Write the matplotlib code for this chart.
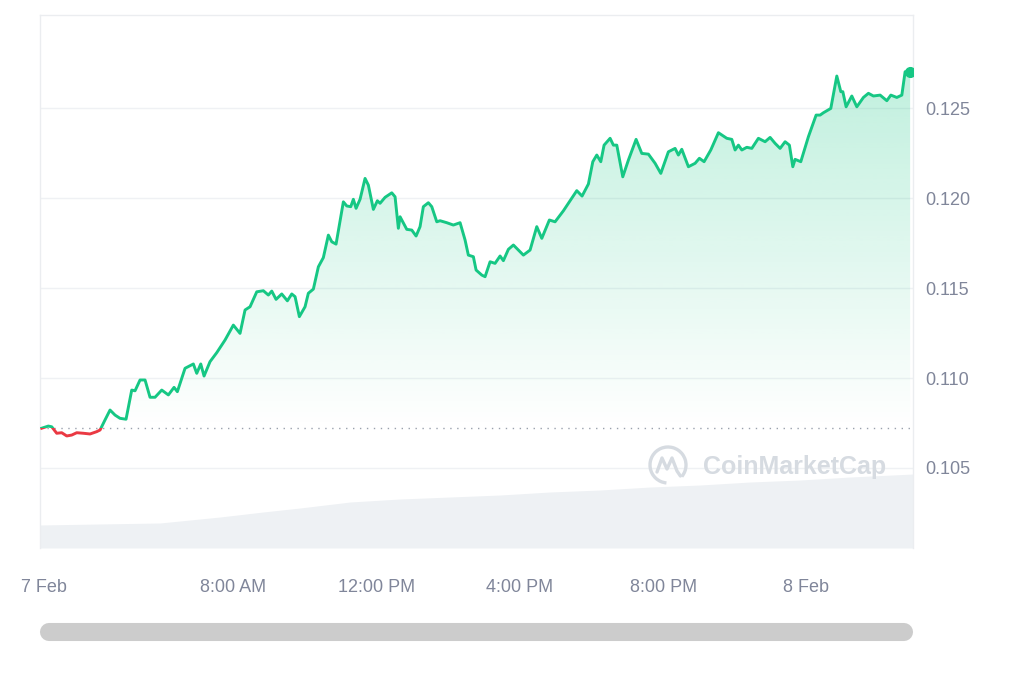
import matplotlib
matplotlib.use('Agg')
import numpy as np
import matplotlib.pyplot as plt
from matplotlib.patches import Rectangle, PathPatch, Arc
from matplotlib.path import Path
from matplotlib.lines import Line2D

# price series: hours since 7 Feb 00:00 and price in USD
hours = [
    2.645, 2.830, 2.925, 3.064, 3.204, 3.344, 3.483, 3.623, 3.807, 3.994,
    4.182, 4.274, 4.413, 4.553, 4.693, 4.832, 5.000, 5.159, 5.251, 5.391,
    5.531, 5.670, 5.810, 5.997, 6.182, 6.341, 6.433, 6.648, 6.880, 6.975,
    7.087, 7.179, 7.346, 7.534, 7.765, 7.997, 8.184, 8.324, 8.464, 8.651,
    8.835, 8.975, 9.070, 9.190, 9.349, 9.506, 9.629, 9.721, 9.841, 10.000,
    10.092, 10.232, 10.372, 10.511, 10.651, 10.746, 10.866, 11.070, 11.165, 11.276,
    11.349, 11.425, 11.536, 11.676, 11.768, 11.908, 12.020, 12.095, 12.235, 12.422,
    12.514, 12.606, 12.654, 12.841, 12.981, 13.101, 13.212, 13.304, 13.444, 13.539,
    13.679, 13.771, 13.958, 14.142, 14.330, 14.469, 14.561, 14.701, 14.777, 14.936,
    15.028, 15.168, 15.307, 15.447, 15.539, 15.679, 15.819, 15.958, 16.098, 16.285,
    16.472, 16.612, 16.824, 16.983, 17.215, 17.402, 17.589, 17.737, 17.914, 18.037,
    18.148, 18.260, 18.352, 18.520, 18.612, 18.707, 18.874, 19.031, 19.246, 19.405,
    19.590, 19.777, 19.936, 20.148, 20.335, 20.427, 20.522, 20.707, 20.894, 21.014,
    21.145, 21.332, 21.545, 21.779, 21.919, 22.011, 22.104, 22.199, 22.338, 22.478,
    22.662, 22.849, 22.989, 23.128, 23.268, 23.408, 23.528, 23.623, 23.687, 23.846,
    24.059, 24.274, 24.386, 24.478, 24.573, 24.684, 24.852, 24.964, 25.020, 25.112,
    25.271, 25.411, 25.595, 25.735, 25.875, 26.062, 26.249, 26.361, 26.528, 26.668,
    26.760, 26.900,
]
prices = [
    0.10721, 0.10733, 0.10729, 0.10693, 0.10696, 0.10678, 0.10683, 0.10696, 0.10693, 0.10689,
    0.10702, 0.10711, 0.10767, 0.10822, 0.10794, 0.10776, 0.10771, 0.10933, 0.10929, 0.10989,
    0.10989, 0.10893, 0.10893, 0.10933, 0.10906, 0.10948, 0.10924, 0.11054, 0.11078, 0.11026,
    0.11078, 0.11011, 0.11091, 0.11141, 0.11211, 0.11294, 0.11248, 0.11378, 0.11396, 0.11479,
    0.11485, 0.11461, 0.11483, 0.11437, 0.11467, 0.11429, 0.11467, 0.11452, 0.11341, 0.11396,
    0.11471, 0.11494, 0.11618, 0.11669, 0.11794, 0.11757, 0.11744, 0.11979, 0.11956, 0.11952,
    0.11993, 0.11943, 0.11993, 0.12109, 0.12072, 0.11937, 0.11985, 0.11971, 0.12004, 0.12029,
    0.12007, 0.11832, 0.11896, 0.11826, 0.11822, 0.11789, 0.11841, 0.11952, 0.11974, 0.11952,
    0.11868, 0.11874, 0.11863, 0.11850, 0.11863, 0.11767, 0.11683, 0.11674, 0.11600, 0.11572,
    0.11563, 0.11646, 0.11637, 0.11678, 0.11652, 0.11715, 0.11739, 0.11711, 0.11683, 0.11711,
    0.11841, 0.11776, 0.11878, 0.11868, 0.11929, 0.11985, 0.12041, 0.12011, 0.12078, 0.12202,
    0.12239, 0.12202, 0.12294, 0.12332, 0.12294, 0.12294, 0.12118, 0.12211, 0.12326, 0.12248,
    0.12244, 0.12193, 0.12137, 0.12257, 0.12276, 0.12239, 0.12271, 0.12174, 0.12193, 0.12221,
    0.12202, 0.12267, 0.12363, 0.12332, 0.12326, 0.12267, 0.12294, 0.12267, 0.12282, 0.12276,
    0.12332, 0.12313, 0.12337, 0.12304, 0.12276, 0.12313, 0.12294, 0.12174, 0.12215, 0.12202,
    0.12341, 0.12461, 0.12461, 0.12474, 0.12485, 0.12498, 0.12678, 0.12591, 0.12591, 0.12507,
    0.12567, 0.12507, 0.12559, 0.12582, 0.12567, 0.12572, 0.12541, 0.12572, 0.12559, 0.12572,
    0.12702, 0.12702,
]

# traded volume (millions USD), sampled along the day
vol_hours = [2.6, 4.27, 5.95, 7.63, 8.83, 9.86, 11.26, 12.65, 14.05, 15.45,
             16.84, 18.24, 19.64, 21.03, 22.43, 23.83, 25.22, 26.98]
volumes = [34.5, 36.0, 37.5, 46.5, 54.0, 60.0, 69.0, 73.5, 76.5, 79.5,
           84.0, 87.0, 91.5, 94.5, 99.0, 102.0, 106.5, 111.0]

x_ticks = [2.7, 8, 12, 16, 20, 24]
x_labels = ['7 Feb', '8:00 AM', '12:00 PM', '4:00 PM', '8:00 PM', '8 Feb']
y_ticks = [0.105, 0.110, 0.115, 0.120, 0.125]
y_labels = ['0.105', '0.110', '0.115', '0.120', '0.125']

GREEN = '#16c784'
RED = '#ea3943'
GREY_TXT = '#80869a'
GRID = '#eff1f4'

plt.rcParams['font.family'] = ['Liberation Sans', 'DejaVu Sans']

fig = plt.figure(figsize=(10.24, 6.83), dpi=100)
pos = [0.0391, 0.1977, 0.8525, 0.7803]
x_lim = (2.598, 26.98)
y_lim = (0.100556, 0.13017)

# volume in the back
ax_vol = fig.add_axes(pos)
ax_vol.fill_between(vol_hours, volumes, 0, color='#eef1f4', lw=0)
ax_vol.set_xlim(*x_lim)
ax_vol.set_ylim(0, 800)
ax_vol.axis('off')

ax = fig.add_axes(pos)
ax.patch.set_visible(False)

t = np.array(hours)
p = np.array(prices)
base = prices[0]

# gradient fill under the line (above the opening price)
verts = np.vstack([np.column_stack([t, p]), [[t[-1], base], [t[0], base]]])
clip_poly = PathPatch(Path(verts, closed=True), transform=ax.transData,
                      facecolor='none', edgecolor='none')
ax.add_patch(clip_poly)
grad = np.zeros((256, 1, 4))
grad[:, 0, :3] = matplotlib.colors.to_rgb(GREEN)
grad[:, 0, 3] = np.linspace(0.27, 0.0, 256)
im = ax.imshow(grad, extent=[t[0], t[-1], base, p.max()], aspect='auto',
               origin='upper', zorder=1, interpolation='bilinear')
im.set_clip_path(clip_poly)
ax.set_xlim(*x_lim)
ax.set_ylim(*y_lim)

# opening price reference
ax.axhline(base, color='#9aa1ad', lw=1.0, ls=(0, (1, 4)), zorder=2)

# line: green above opening price, red below
up_clip = Rectangle((x_lim[0], base), x_lim[1] - x_lim[0], 1, transform=ax.transData)
dn_clip = Rectangle((x_lim[0], base - 1), x_lim[1] - x_lim[0], 1, transform=ax.transData)
ln_up, = ax.plot(t, p, color=GREEN, lw=2.1, zorder=4, solid_joinstyle='round')
ln_up.set_clip_path(up_clip)
ln_dn, = ax.plot(t, p, color=RED, lw=2.1, zorder=4, solid_joinstyle='round')
ln_dn.set_clip_path(dn_clip)
ax.plot(t[-1], p[-1], 'o', color=GREEN, ms=7, zorder=5)

ax.set_yticks(y_ticks)
ax.set_yticklabels(y_labels)
ax.set_xticks(x_ticks)
ax.set_xticklabels(x_labels)
ax.yaxis.tick_right()
ax.tick_params(axis='y', length=0, pad=9, labelsize=13, labelcolor=GREY_TXT)
ax.tick_params(axis='x', length=0, pad=22, labelsize=13, labelcolor=GREY_TXT)
ax.grid(axis='y', color=GRID, lw=1.0, zorder=0)
ax.set_axisbelow(True)
for side in ['left', 'top', 'right']:
    ax.spines[side].set_color('#ebedf0')
    ax.spines[side].set_linewidth(1.0)
ax.spines['bottom'].set_visible(False)

# watermark
fig.text(703 / 1024, 1 - 467 / 683, 'CoinMarketCap', fontsize=18, fontweight='bold',
         color='#d6dbe1', ha='left', va='center', zorder=6)
ax_logo = fig.add_axes([648 / 1024, 1 - 485 / 683, 40 / 1024, 40 / 683])
ax_logo.set_xlim(-1, 1)
ax_logo.set_ylim(-1, 1)
ax_logo.axis('off')
ax_logo.add_patch(Arc((0, 0), 1.8, 1.8, theta1=-40, theta2=265, color='#d6dbe1', lw=2.4))
ax_logo.plot([-0.55, -0.3, -0.05, 0.2, 0.45, 0.62], [-0.35, 0.35, -0.2, 0.35, -0.3, -0.55],
             color='#d6dbe1', lw=2.4, solid_joinstyle='round', solid_capstyle='round')

# scrollbar
fig.add_artist(Line2D([49 / 1024, 904 / 1024], [1 - 632 / 683, 1 - 632 / 683],
                      color='#cccccc', lw=13, solid_capstyle='round'))

fig.savefig('out.png', dpi=100)
